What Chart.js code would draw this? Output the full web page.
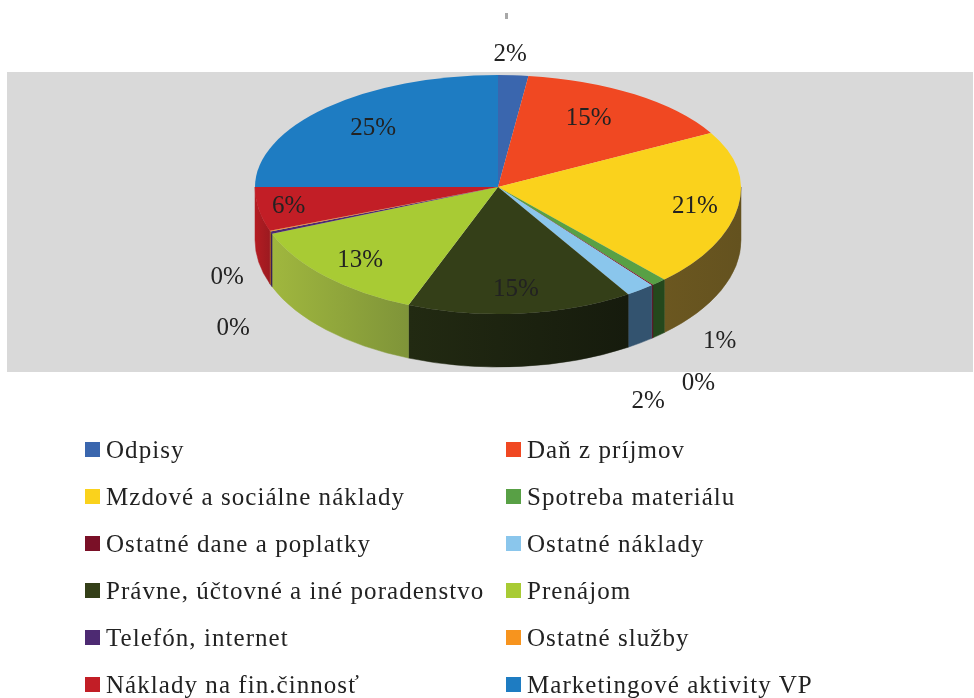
<!DOCTYPE html>
<html>
<head>
<meta charset="utf-8">
<script src="https://cdn.jsdelivr.net/npm/chart.js@4/dist/chart.umd.min.js"></script>
<style>
  body { margin: 0; background: #fff; }
  #wrap { position: relative; width: 974px; height: 698px; overflow: hidden; }
  #pie { position: absolute; left: 0; top: 0; }
  .item { position: absolute; font: 25px "Liberation Serif", serif; letter-spacing: 1.05px; color: #222; white-space: nowrap; line-height: 30px; }
  .box { position: absolute; width: 15px; height: 15px; }
</style>
</head>
<body>
<div id="wrap"><canvas id="pie" width="974" height="698"></canvas></div>
<script>
var categories = ['Odpisy', 'Daň z príjmov', 'Mzdové a sociálne náklady', 'Spotreba materiálu',
  'Ostatné dane a poplatky', 'Ostatné náklady', 'Právne, účtovné a iné poradenstvo', 'Prenájom',
  'Telefón, internet', 'Ostatné služby', 'Náklady na fin.činnosť', 'Marketingové aktivity VP'];
var values = [2, 15, 21, 1, 0.1, 1.9, 15, 13, 0.3, 0.1, 5.6, 25];
var colors = ['#3a66ae', '#f04822', '#fad21c', '#58a045', '#7a1027', '#8ac6ec',
  '#343f18', '#a8cb34', '#4d2a72', '#f7941e', '#c21e26', '#1e7cc2'];
// side of the pie: left and right end of each wall
var wallLeft = ['#2a4a80', '#b03418', '#6b5720', '#24481c', '#5a0c1c', '#33536f',
  '#222a12', '#a0b73e', '#3a2056', '#b06a14', '#b41c22', '#165a8e'];
var wallRight = ['#2a4a80', '#b03418', '#64521f', '#24481c', '#5a0c1c', '#33536f',
  '#161b0d', '#7f9439', '#3a2056', '#b06a14', '#9c1a20', '#165a8e'];
// label shift from the middle of the slice's rim
var labelShift = [[-3, -21], [-46, 24], [-43, 0], [61, 59], [46, 98], [8, 111],
  [-5, -24], [34, -16], [-38, 96], [-43, 46], [30, -3], [47, 21]];

var centerY = 187, ryUp = 112, ryDown = 127, depth = 53;
var labelFont = '25px "Liberation Serif", serif';

function squash(ctx, arc, ry) {
  ctx.translate(0, centerY);
  ctx.scale(1, ry / arc.outerRadius);
  ctx.translate(0, -arc.y);
}

var pie3d = {
  id: 'pie3d',
  beforeDraw(chart) {
    var ctx = chart.ctx;
    ctx.save();
    ctx.fillStyle = '#d9d9d9';
    ctx.fillRect(7, 72, 966, 300);
    ctx.fillStyle = '#a8a8a8';
    ctx.fillRect(505, 13, 3, 6);
    ctx.restore();
  },
  beforeDatasetsDraw(chart) {
    var ctx = chart.ctx;
    var arcs = chart.getDatasetMeta(0).data;
    var r = arcs[0].outerRadius, cx = arcs[0].x;

    // walls only on the front half
    arcs.forEach(function (arc, i) {
      var a0 = Math.max(arc.startAngle, 0), a1 = Math.min(arc.endAngle, Math.PI);
      if (a1 <= a0) return;
      var x0 = cx + r * Math.cos(a1), x1 = cx + r * Math.cos(a0);
      var grad = ctx.createLinearGradient(x0, 0, x1 + 0.01, 0);
      grad.addColorStop(0, wallLeft[i]);
      grad.addColorStop(1, wallRight[i]);
      ctx.beginPath();
      ctx.ellipse(cx, centerY, r, ryDown, 0, a0, a1);
      ctx.ellipse(cx, centerY + depth, r, ryDown, 0, a1, a0, true);
      ctx.closePath();
      ctx.fillStyle = grad;
      ctx.strokeStyle = grad;
      ctx.lineWidth = 0.5;
      ctx.fill();
      ctx.stroke();
    });

    // front half of the top, flatter back half is drawn by the chart below
    ctx.save();
    ctx.beginPath();
    ctx.rect(0, centerY, chart.width, chart.height);
    ctx.clip();
    squash(ctx, arcs[0], ryDown);
    arcs.forEach(function (arc) { arc.draw(ctx); });
    ctx.restore();

    ctx.save();
    ctx.beginPath();
    ctx.rect(0, 0, chart.width, centerY + 0.5);
    ctx.clip();
    squash(ctx, arcs[0], ryUp);
  },
  afterDatasetsDraw(chart) {
    chart.ctx.restore();
  },
  afterDraw(chart) {
    var ctx = chart.ctx;
    var arcs = chart.getDatasetMeta(0).data;
    ctx.save();
    ctx.font = labelFont;
    ctx.fillStyle = '#222';
    ctx.textAlign = 'center';
    ctx.textBaseline = 'middle';
    arcs.forEach(function (arc, i) {
      var mid = (arc.startAngle + arc.endAngle) / 2;
      var ry = Math.sin(mid) > 0 ? ryDown : ryUp;
      var x = arc.x + arc.outerRadius * Math.cos(mid) + labelShift[i][0];
      var y = centerY + ry * Math.sin(mid) + labelShift[i][1];
      ctx.fillText(Math.round(values[i]) + '%', x, y);
    });
    ctx.restore();
  }
};

new Chart(document.getElementById('pie'), {
  type: 'pie',
  data: {
    labels: categories,
    datasets: [{ data: values, backgroundColor: colors, borderWidth: 0, clip: false }]
  },
  options: {
    responsive: false,
    animation: false,
    layout: { padding: { left: 255, right: 233, top: 0, bottom: 212 } },
    plugins: { legend: { display: false }, tooltip: { enabled: false } }
  },
  plugins: [pie3d]
});

// legend in two columns
var wrap = document.getElementById('wrap');
categories.forEach(function (name, i) {
  var left = i % 2 == 0 ? 85 : 506;
  var top = 442 + Math.floor(i / 2) * 47;
  var box = document.createElement('div');
  box.className = 'box';
  box.style.left = left + 'px';
  box.style.top = top + 'px';
  box.style.background = colors[i];
  wrap.appendChild(box);
  var item = document.createElement('div');
  item.className = 'item';
  item.style.left = (left + 21) + 'px';
  item.style.top = (top - 7) + 'px';
  item.textContent = name;
  wrap.appendChild(item);
});
</script>
</body>
</html>
